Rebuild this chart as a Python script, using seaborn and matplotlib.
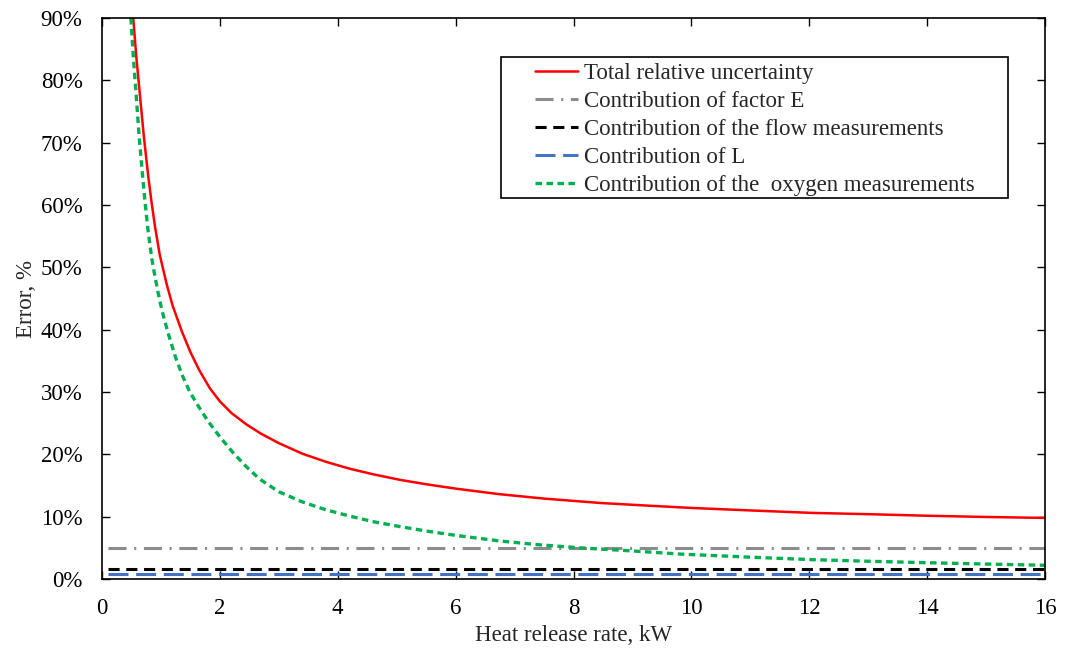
import numpy as np
import pandas as pd
import matplotlib
matplotlib.use("Agg")
import matplotlib.pyplot as plt
from matplotlib.patches import Rectangle
from matplotlib.ticker import FuncFormatter, MultipleLocator
import seaborn as sns

sns.set_style("ticks")
plt.rcParams['font.family'] = ['Liberation Serif', 'DejaVu Serif']
plt.rcParams['lines.scale_dashes'] = False

# --- data (x in kW, y in %) ---
total_x = [0.53, 0.58, 0.645, 0.71, 0.786, 0.84, 0.90, 0.98, 1.10, 1.20, 1.36, 1.50,
           1.65, 1.83, 2.0, 2.2, 2.45, 2.7, 3.0, 3.4, 3.8, 4.2, 4.6, 5.06, 5.5,
           6.0, 6.75, 7.5, 8.45, 9.2, 10.0, 11.0, 12.06, 13.0, 14.0, 15.0, 16.0]
total_y = [90, 84, 77.5, 71, 64.5, 60.5, 56.5, 52, 47.2, 43.8, 39.6, 36.4,
           33.5, 30.6, 28.5, 26.6, 24.8, 23.3, 21.8, 20.1, 18.8, 17.7, 16.8, 15.9, 15.2,
           14.5, 13.6, 12.9, 12.2, 11.8, 11.4, 11.0, 10.6, 10.4, 10.15, 9.95, 9.8]

oxy_x = [0.49, 0.53, 0.577, 0.63, 0.69, 0.73, 0.78, 0.843, 0.88, 0.95, 1.02, 1.12,
         1.25, 1.37, 1.49, 1.65, 1.8, 2.0, 2.23, 2.45, 2.68, 3.0, 3.39, 3.8, 4.2,
         4.6, 5.06, 5.5, 6.0, 6.75, 7.4, 8.11, 9.0, 9.81, 11.0, 12.06, 13.0, 14.05,
         15.0, 16.0]
oxy_y = [90, 84, 78, 71, 64.5, 60.5, 56, 51.5, 49.5, 46, 43, 39.5,
         35.5, 32.5, 30, 27.5, 25.3, 22.8, 20.2, 18, 16, 14, 12.4, 11.1, 10.1,
         9.2, 8.4, 7.7, 7.0, 6.1, 5.5, 5.0, 4.5, 4.0, 3.5, 3.1, 2.85, 2.6,
         2.4, 2.2]

flat_x = [0.1, 16.0]
factor_e = [5.0, 5.0]
flow = [1.6, 1.6]
contrib_l = [0.8, 0.8]

labels = ["Total relative uncertainty",
          "Contribution of factor E",
          "Contribution of the flow measurements",
          "Contribution of L",
          "Contribution of the  oxygen measurements"]

fig = plt.figure(figsize=(10.69, 6.48), dpi=100)
ax = fig.add_axes([102/1069, 1 - 579/648, 943/1069, 561/648])

sns.lineplot(x=total_x, y=total_y, ax=ax, color="#FF0000", lw=1.8,
             label=labels[0], sort=False)
sns.lineplot(x=flat_x, y=factor_e, ax=ax, color="#8C8C8C", lw=2.2,
             linestyle=(0, (13, 5.5, 1.5, 5.5)), label=labels[1])
sns.lineplot(x=flat_x, y=flow, ax=ax, color="black", lw=2.2,
             linestyle=(0, (8, 4.8)), label=labels[2])
sns.lineplot(x=flat_x, y=contrib_l, ax=ax, color="#4472C4", lw=2.2,
             linestyle=(0, (14.4, 5.5)), label=labels[3])
sns.lineplot(x=oxy_x, y=oxy_y, ax=ax, color="#00B050", lw=2.4,
             linestyle=(0, (4.7, 3.2)), label=labels[4], sort=False)

ax.set_xlim(0, 16)
ax.set_ylim(0, 90)
ax.xaxis.set_major_locator(MultipleLocator(2))
ax.yaxis.set_major_locator(MultipleLocator(10))
ax.yaxis.set_major_formatter(FuncFormatter(lambda v, p: f"{v:.0f}%"))
ax.tick_params(direction="in", top=True, right=True, length=6, width=1,
               labelsize=16.5, colors="black", pad=14)
for s in ax.spines.values():
    s.set_visible(True)
    s.set_linewidth(1.2)
    s.set_color("black")

ax.set_xlabel("Heat release rate, kW", fontsize=16.5, labelpad=4)
ax.set_ylabel("Error, %", fontsize=16.5, labelpad=3)

leg = ax.legend(loc="upper left", bbox_to_anchor=(0.4592, 0.919), frameon=False,
                fontsize=16.5, handlelength=1.88, handletextpad=0.26,
                labelspacing=0.3, borderpad=0, borderaxespad=0)
ax.add_patch(Rectangle((0.4231, 0.6791), 0.9608 - 0.4231, 0.9305 - 0.6791,
                       transform=ax.transAxes, fill=False, edgecolor="black",
                       lw=1.2, zorder=5))

fig.savefig("out.png", dpi=100)
